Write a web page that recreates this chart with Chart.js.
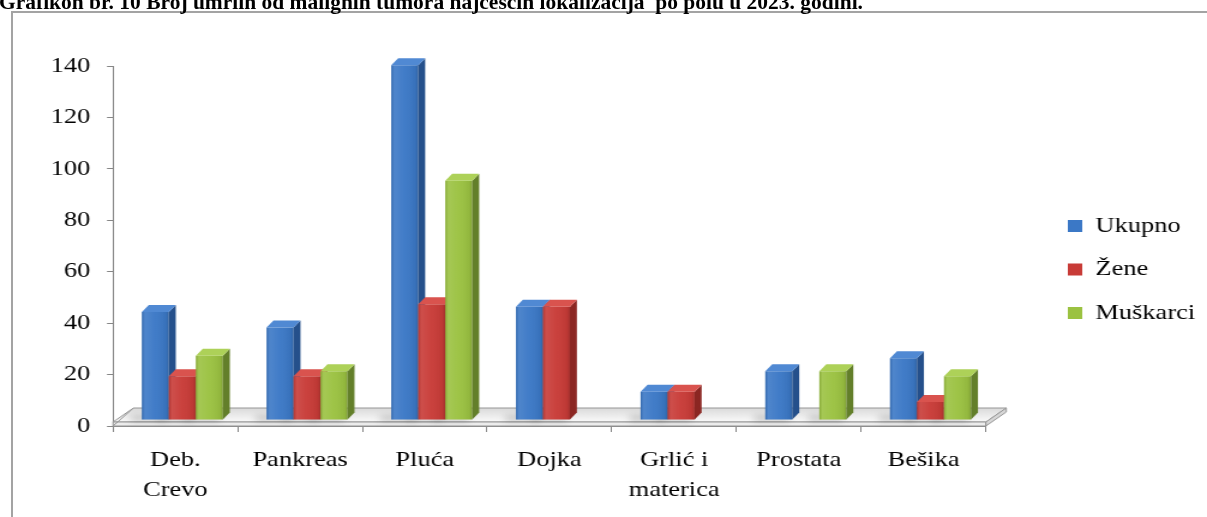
<!DOCTYPE html>
<html>
<head>
<meta charset="utf-8">
<title>Grafikon br. 10</title>
<script src="https://cdn.jsdelivr.net/npm/chart.js@4.4.1/dist/chart.umd.min.js"></script>
<style>
  html, body { margin: 0; padding: 0; background: #fff; overflow: hidden; }
  body { width: 1207px; height: 517px; position: relative; }
  /* the original picture is stretched sideways, so the chart is drawn narrow and scaled */
  #wrap { position: absolute; left: 0; top: 0; width: 1006px; height: 517px; transform: scaleX(1.1998); transform-origin: 0 0; }
  #frame { position: absolute; left: 11px; top: 11px; width: 1300px; height: 600px; border-left: 2px solid #a3a3a3; border-top: 2px solid #a3a3a3; }
  #title { position: absolute; left: -1px; top: -7.6px; font: bold 21px "Liberation Serif", "Times New Roman", serif; line-height: 21px; white-space: pre; transform-origin: 0 0; color: #000; }
</style>
</head>
<body>
<div id="frame"></div>
<div id="wrap"><canvas id="chart" width="1006" height="517"></canvas></div>
<div id="title">Grafikon br. 10 Broj umrlih od malignih tumora najčešćih lokalizacija  po polu u 2023. godini.</div>
<script>
const categories = [['Deb.', 'Crevo'], 'Pankreas', 'Pluća', 'Dojka', ['Grlić i', 'materica'], 'Prostata', 'Bešika'];
const seriesNames = ['Ukupno', 'Žene', 'Muškarci'];
const ukupno = [42, 36, 138, 44, 11, 19, 24];
const zene = [17, 17, 45, 44, 11, null, 7];
const muskarci = [25, 19, 93, null, null, 19, 17];
const yMin = 0;
const yMax = 140;
const yStep = 20;

const faceColors = ['#3b78c6', '#c83b37', '#9bc241'];
const sideColors = ['#25508b', '#8b2622', '#637f2a'];
const topColors = ['#5089d3', '#d9534e', '#add158'];

const serif = '"Liberation Serif", "Times New Roman", serif';
const depth = {dx: 5.8, dy: 7};      // depth of each bar
const shift = {dx: 5.8, dy: -6};     // bars stand a bit behind the axis plane
const floor = {dx: 17, dy: 14, thick: 4};

// fit the title to its width in the picture
const titleEl = document.getElementById('title');
titleEl.style.transform = 'scaleX(' + (864 / titleEl.getBoundingClientRect().width) + ')';

const bars3d = {
    id: 'bars3d',
    afterLayout: function(chart) {
        // put the legend where the picture has it
        const lg = chart.legend;
        lg.left = 868.5;
        lg.right = chart.width;
        lg.width = lg.right - lg.left;
        lg.top = 193.5;
        lg.height = 152;
        lg.bottom = lg.top + lg.height;
    },
    beforeDatasetsDraw: function(chart) {
        const ctx = chart.ctx;
        const area = chart.chartArea;
        const y0 = chart.scales.y.getPixelForValue(0);
        const L = area.left, R = area.right;
        const ft = y0 - floor.thick;

        ctx.save();
        // floor slab
        const fg = ctx.createLinearGradient(0, ft - floor.dy, 0, ft);
        fg.addColorStop(0, '#dadada');
        fg.addColorStop(1, '#fafafa');
        ctx.beginPath();
        ctx.moveTo(L, ft);
        ctx.lineTo(R, ft);
        ctx.lineTo(R + floor.dx, ft - floor.dy);
        ctx.lineTo(L + floor.dx, ft - floor.dy);
        ctx.closePath();
        ctx.fillStyle = fg;
        ctx.fill();
        ctx.strokeStyle = '#969696';
        ctx.lineWidth = 1;
        ctx.stroke();
        ctx.fillStyle = '#ececec';
        ctx.fillRect(L, ft, R - L, floor.thick);
        ctx.strokeRect(L, ft, R - L, floor.thick);
        ctx.beginPath();
        ctx.moveTo(R, y0);
        ctx.lineTo(R, ft);
        ctx.lineTo(R + floor.dx, ft - floor.dy);
        ctx.lineTo(R + floor.dx, y0 - floor.dy);
        ctx.closePath();
        ctx.fillStyle = '#d6d6d6';
        ctx.fill();
        ctx.stroke();
        ctx.beginPath();
        ctx.moveTo(L, y0);
        ctx.lineTo(L + floor.dx, ft - floor.dy);
        ctx.stroke();

        ctx.translate(shift.dx, shift.dy);

        // soft shadows on the floor
        ctx.save();
        ctx.filter = 'blur(3px)';
        ctx.fillStyle = 'rgba(0,0,0,0.18)';
        chart.data.datasets.forEach(function(ds, d) {
            chart.getDatasetMeta(d).data.forEach(function(el, i) {
                if (ds.data[i] == null) return;
                const left = el.x - el.width / 2;
                ctx.fillRect(left - 9, el.base - 4, el.width + 6, 6);
            });
        });
        ctx.restore();

        // bars: front from the library, then side and top
        const n = chart.data.labels.length;
        for (let i = 0; i < n; i++) {
            chart.data.datasets.forEach(function(ds, d) {
                if (ds.data[i] == null) return;
                const el = chart.getDatasetMeta(d).data[i];
                el.draw(ctx, area);
                const left = el.x - el.width / 2;
                const right = el.x + el.width / 2;
                const top = el.y;
                const base = el.base;

                const g = ctx.createLinearGradient(left, 0, right, 0);
                g.addColorStop(0, 'rgba(0,0,0,0.12)');
                g.addColorStop(0.12, 'rgba(255,255,255,0.10)');
                g.addColorStop(0.5, 'rgba(255,255,255,0.03)');
                g.addColorStop(0.9, 'rgba(0,0,0,0.06)');
                g.addColorStop(1, 'rgba(0,0,0,0.18)');
                ctx.fillStyle = g;
                ctx.fillRect(left, top, right - left, base - top);

                ctx.beginPath();
                ctx.moveTo(right, top);
                ctx.lineTo(right + depth.dx, top - depth.dy);
                ctx.lineTo(right + depth.dx, base - depth.dy);
                ctx.lineTo(right, base);
                ctx.closePath();
                ctx.fillStyle = sideColors[d];
                ctx.fill();

                ctx.beginPath();
                ctx.moveTo(left, top);
                ctx.lineTo(right, top);
                ctx.lineTo(right + depth.dx, top - depth.dy);
                ctx.lineTo(left + depth.dx, top - depth.dy);
                ctx.closePath();
                ctx.fillStyle = topColors[d];
                ctx.fill();
            });
        }
        ctx.restore();
        return false;
    }
};

const seriesData = [ukupno, zene, muskarci];

new Chart(document.getElementById('chart'), {
    type: 'bar',
    data: {
        labels: categories,
        datasets: seriesNames.map(function(name, k) {
            return {
                label: name,
                data: seriesData[k],
                backgroundColor: faceColors[k],
                borderWidth: 0,
                categoryPercentage: 0.65,
                barPercentage: 1
            };
        })
    },
    options: {
        responsive: false,
        animation: false,
        events: [],
        layout: {padding: {top: 66, left: 0, bottom: 0, right: 84.3}},
        plugins: {
            tooltip: {enabled: false},
            title: {display: false},
            legend: {
                position: 'right',
                maxWidth: 100,
                labels: {
                    color: '#000',
                    font: {family: serif, size: 22},
                    boxWidth: 12,
                    boxHeight: 12,
                    padding: 21.5
                }
            }
        },
        scales: {
            x: {
                offset: true,
                grid: {offset: true, drawOnChartArea: false, drawTicks: true, tickLength: 6, color: '#868686'},
                border: {color: '#868686'},
                ticks: {color: '#000', font: {family: serif, size: 22, lineHeight: 1.36}, padding: 13, maxRotation: 0, autoSkip: false},
                afterFit: function(s) { s.height = 91; }
            },
            y: {
                min: yMin,
                max: yMax,
                ticks: {stepSize: yStep, color: '#000', font: {family: serif, size: 22}, padding: 14},
                grid: {drawOnChartArea: false, tickLength: 5, color: '#868686'},
                border: {color: '#868686'},
                afterFit: function(s) { s.width = 94.2; }
            }
        }
    },
    plugins: [bars3d]
});
</script>
</body>
</html>
